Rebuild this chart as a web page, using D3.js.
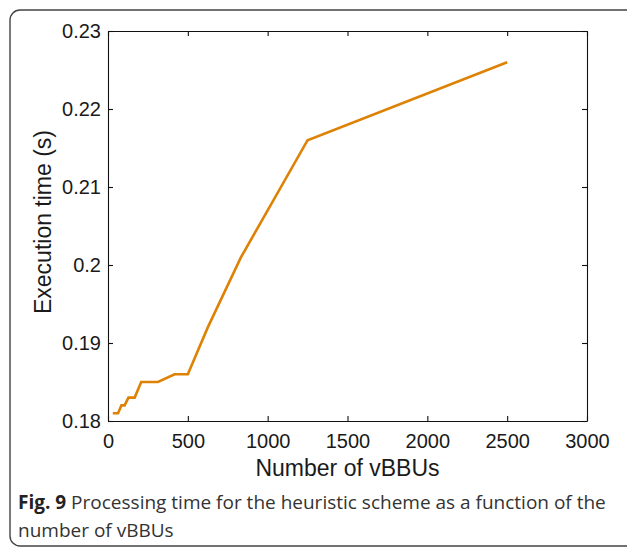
<!DOCTYPE html>
<html>
<head>
<meta charset="utf-8">
<script src="https://cdn.jsdelivr.net/npm/d3@7"></script>
<style>
  body { margin: 0; background: #fff; }
  svg { display: block; }
</style>
</head>
<body>
<svg id="chart" width="627" height="548"></svg>
<script>
// data
var vbbus = [30, 63, 84, 104, 128, 167, 208, 313, 417, 500, 625, 833, 1250, 2500];
var execTime = [0.181, 0.181, 0.182, 0.182, 0.183, 0.183, 0.185, 0.185, 0.186, 0.186, 0.192, 0.201, 0.216, 0.226];
var xTicks = [0, 500, 1000, 1500, 2000, 2500, 3000];
var yTicks = [0.18, 0.19, 0.2, 0.21, 0.22, 0.23];

(function() {
  var svg = d3.select("#chart");

  // card border (runs off the right edge)
  svg.append("rect")
    .attr("x", 10).attr("y", 10)
    .attr("width", 650).attr("height", 536)
    .attr("rx", 10)
    .attr("fill", "none")
    .attr("stroke", "#444")
    .attr("stroke-width", 1.4);

  var pLeft = 108, pRight = 587, pTop = 31, pBottom = 421;

  var x = d3.scaleLinear().domain([0, 3000]).range([pLeft, pRight]);
  var y = d3.scaleLinear().domain([0.18, 0.23]).range([pBottom, pTop]);

  var tickFont = "Liberation Sans, Arial, sans-serif";

  // axes, ticks pointing inward (box on)
  var gx = svg.append("g")
    .attr("transform", "translate(0," + pBottom + ")")
    .call(d3.axisBottom(x).tickValues(xTicks).tickSizeInner(-5).tickSizeOuter(0).tickPadding(13)
      .tickFormat(d3.format("d")));
  var gxTop = svg.append("g")
    .attr("transform", "translate(0," + pTop + ")")
    .call(d3.axisTop(x).tickValues(xTicks).tickSizeInner(-5).tickSizeOuter(0).tickFormat(""));
  var gy = svg.append("g")
    .attr("transform", "translate(" + pLeft + ",0)")
    .call(d3.axisLeft(y).tickValues(yTicks).tickSizeInner(-5).tickSizeOuter(0).tickPadding(7)
      .tickFormat(function(d) { return String(+d.toFixed(2)); }));
  var gyRight = svg.append("g")
    .attr("transform", "translate(" + pRight + ",0)")
    .call(d3.axisRight(y).tickValues(yTicks).tickSizeInner(-5).tickSizeOuter(0).tickFormat(""));

  [gx, gxTop, gy, gyRight].forEach(function(g) {
    g.select(".domain").attr("stroke", "#111").attr("stroke-width", 1.1);
    g.selectAll(".tick line").attr("stroke", "#111").attr("stroke-width", 1.1);
    g.selectAll("text").attr("font-family", tickFont).attr("font-size", 20).attr("fill", "#1a1a1a");
  });

  // line
  var line = d3.line()
    .x(function(d, i) { return x(vbbus[i]); })
    .y(function(d) { return y(d); });

  svg.append("path")
    .datum(execTime)
    .attr("d", line)
    .attr("fill", "none")
    .attr("stroke", "#de8205")
    .attr("stroke-width", 2.6);

  // axis titles
  svg.append("text")
    .attr("x", (pLeft + pRight) / 2).attr("y", 476)
    .attr("text-anchor", "middle")
    .attr("font-family", tickFont).attr("font-size", 23).attr("fill", "#1a1a1a")
    .text("Number of vBBUs");

  svg.append("text")
    .attr("transform", "translate(51,222) rotate(-90)")
    .attr("text-anchor", "middle")
    .attr("font-family", tickFont).attr("font-size", 23).attr("fill", "#1a1a1a")
    .text("Execution time (s)");

  // caption
  var cap = svg.append("text")
    .attr("font-family", "Open Sans, Noto Sans, sans-serif")
    .attr("font-size", 19).attr("fill", "#333");
  var l1 = cap.append("tspan").attr("x", 18).attr("y", 509);
  l1.append("tspan").attr("font-weight", "bold").attr("fill", "#222").text("Fig. 9");
  l1.append("tspan").text(" Processing time for the heuristic scheme as a function of the");
  cap.append("tspan").attr("x", 18).attr("y", 537).text("number of vBBUs");
})();
</script>
</body>
</html>
